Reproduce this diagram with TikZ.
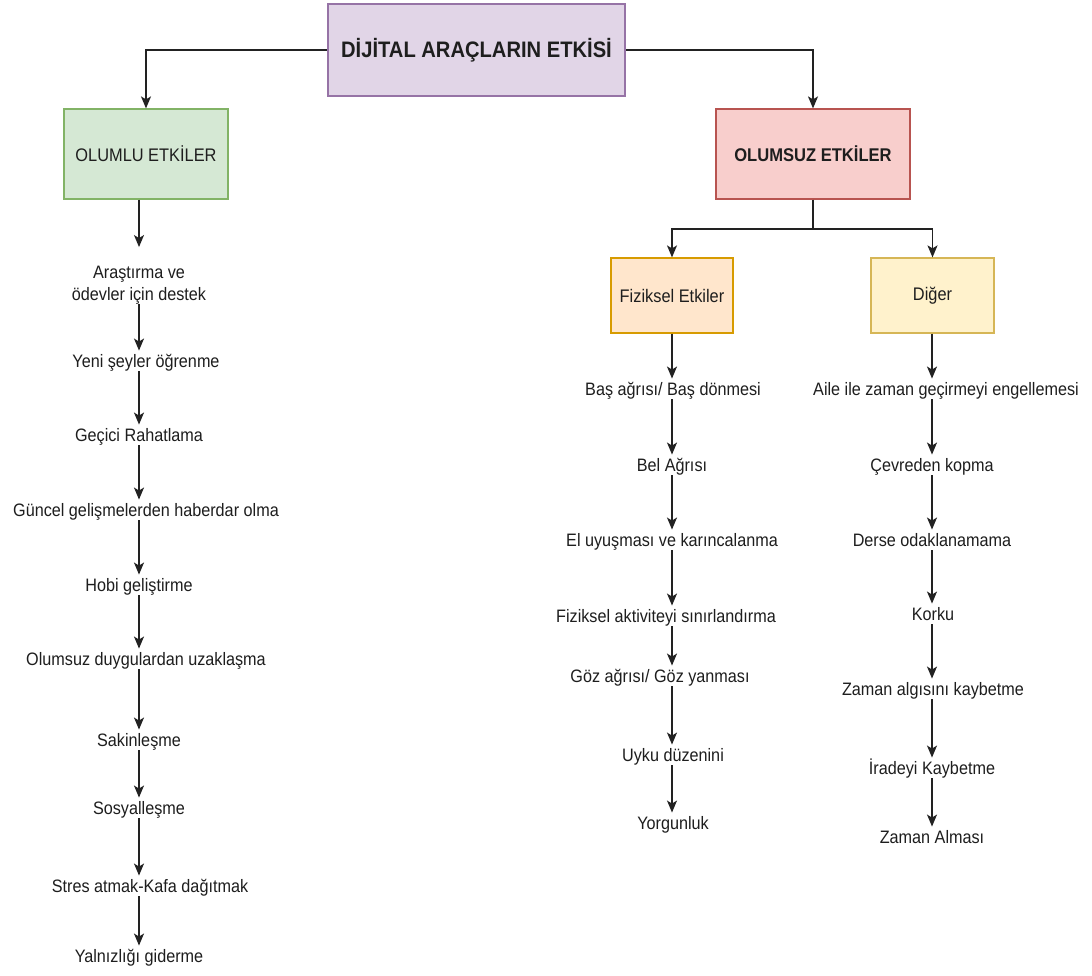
\documentclass[tikz,border=0pt]{standalone}
\usepackage{fontspec}
\setmainfont{Liberation Sans}[FakeStretch=0.9]
\usetikzlibrary{arrows.meta,positioning,calc}

\definecolor{ink}{HTML}{1E1E1E}
\definecolor{wire}{HTML}{222222}
\definecolor{purpleFill}{HTML}{E1D5E7}
\definecolor{purpleLine}{HTML}{9673A6}
\definecolor{greenFill}{HTML}{D5E8D4}
\definecolor{greenLine}{HTML}{82B366}
\definecolor{redFill}{HTML}{F8CECC}
\definecolor{redLine}{HTML}{B85450}
\definecolor{orangeFill}{HTML}{FFE6CC}
\definecolor{orangeLine}{HTML}{D79B00}
\definecolor{yellowFill}{HTML}{FFF2CC}
\definecolor{yellowLine}{HTML}{D6B656}

\tikzset{
  x=1pt, y=-1pt,
  box/.style={draw, line width=1.2pt, inner sep=0pt, align=center,
    text=ink, font=\fontsize{18.2}{21}\selectfont},
  item/.style={inner xsep=2pt, inner ysep=0pt, text height=13pt, text depth=3.5pt,
    align=center, text=ink, font=\fontsize{18}{22}\selectfont},
  arr/.style={draw=wire, line width=1.4pt,
    -{Stealth[length=12pt,width=10pt,inset=3pt]}},
  link/.style={draw=wire, line width=1.4pt},
  gap/.style={shorten >=4pt}
}

\begin{document}
\begin{tikzpicture}
\useasboundingbox (0,0) rectangle (1092,976);
\fill[white] (0,0) rectangle (1092,976);

% column guides for the vertical arrows
\coordinate (colL) at (139,0);
\coordinate (colF) at (672,0);
\coordinate (colD) at (932,0);

% headings
\node[box, fill=purpleFill, draw=purpleLine, line width=2.6pt,
      minimum width=297pt, minimum height=92pt,
      font=\fontsize{22.4}{26}\selectfont\bfseries] (top) at (476.5,50)
      {DİJİTAL ARAÇLARIN ETKİSİ};
\node[box, fill=greenFill, draw=greenLine, minimum width=164pt, minimum height=90pt]
      (olumlu) at (146,154) {OLUMLU ETKİLER};
\node[box, fill=redFill, draw=redLine, minimum width=194pt, minimum height=90pt,
      font=\fontsize{18.4}{21}\selectfont\bfseries]
      (olumsuz) at (813,154) {OLUMSUZ ETKİLER};
\node[box, fill=orangeFill, draw=orangeLine, minimum width=122pt, minimum height=75pt]
      (fiz) at (672,295.5) {Fiziksel Etkiler};
\node[box, fill=yellowFill, draw=yellowLine, minimum width=123pt, minimum height=75pt]
      (diger) at (932.5,295.5) {Diğer};

% positive effects
\node[item] (p1) at (139,295.5) {Araştırma ve\\ödevler için destek};
\node[item] (p2) at (146,363) {Yeni şeyler öğrenme};
\node[item] (p3) at (139,437) {Geçici Rahatlama};
\node[item] (p4) at (146,512) {Güncel gelişmelerden haberdar olma};
\node[item] (p5) at (139,587) {Hobi geliştirme};
\node[item] (p6) at (146,661) {Olumsuz duygulardan uzaklaşma};
\node[item] (p7) at (139,742) {Sakinleşme};
\node[item] (p8) at (139,810) {Sosyalleşme};
\node[item] (p9) at (150,888) {Stres atmak-Kafa dağıtmak};
\node[item] (p10) at (139,958) {Yalnızlığı giderme};

% physical effects
\node[item] (f1) at (673,391) {Baş ağrısı/ Baş dönmesi};
\node[item] (f2) at (672,467) {Bel Ağrısı};
\node[item] (f3) at (672,542) {El uyuşması ve karıncalanma};
\node[item] (f4) at (666,618) {Fiziksel aktiviteyi sınırlandırma};
\node[item] (f5) at (660,678) {Göz ağrısı/ Göz yanması};
\node[item] (f6) at (673,757) {Uyku düzenini};
\node[item] (f7) at (673,825) {Yorgunluk};

% other effects
\node[item] (d1) at (946,391) {Aile ile zaman geçirmeyi engellemesi};
\node[item] (d2) at (932,467) {Çevreden kopma};
\node[item] (d3) at (932,542) {Derse odaklanamama};
\node[item] (d4) at (933,616) {Korku};
\node[item] (d5) at (933,691) {Zaman algısını kaybetme};
\node[item] (d6) at (932,770) {İradeyi Kaybetme};
\node[item] (d7) at (932,839) {Zaman Alması};

% top-level connectors
\draw[arr] (top.west) -| (olumlu.north);
\draw[arr] (top.east) -| (olumsuz.north);
\coordinate (split) at (813,229);
\draw[link] (olumsuz.south) -- (split);
\draw[arr] (split) -| (fiz.north);
\draw[arr] (split) -| (diger.north);

% positive chain
\draw[arr, shorten >=40pt] (olumlu.south -| colL) -- (p1.north -| colL);
\foreach \a/\b in {p1/p2,p2/p3,p3/p4,p4/p5,p5/p6,p6/p7,p7/p8,p8/p9,p9/p10}
  \draw[arr, gap] (\a.south -| colL) -- (\b.north -| colL);

% physical chain
\draw[arr, gap] (fiz.south -| colF) -- (f1.north -| colF);
\foreach \a/\b in {f1/f2,f2/f3,f3/f4,f4/f5,f5/f6,f6/f7}
  \draw[arr, gap] (\a.south -| colF) -- (\b.north -| colF);

% other chain
\draw[arr, gap] (diger.south -| colD) -- (d1.north -| colD);
\foreach \a/\b in {d1/d2,d2/d3,d3/d4,d4/d5,d5/d6,d6/d7}
  \draw[arr, gap] (\a.south -| colD) -- (\b.north -| colD);
\end{tikzpicture}
\end{document}
